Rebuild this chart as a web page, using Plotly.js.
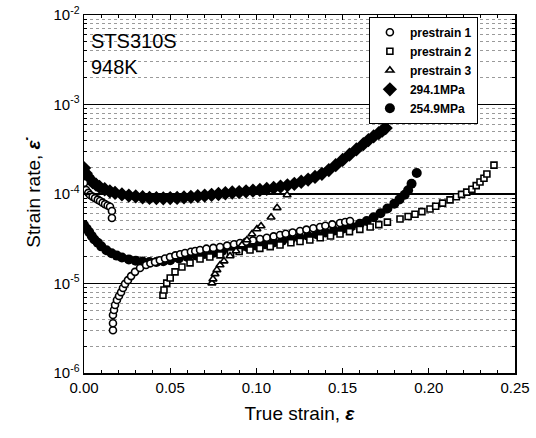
<!DOCTYPE html>
<html>
<head>
<meta charset="utf-8">
<script src="https://cdn.plot.ly/plotly-3.0.1.min.js"></script>
<style>html,body{margin:0;padding:0;background:#fff;}#chart{width:536px;height:438px;}</style>
</head>
<body>
<div id="chart"></div>
<script>
// ---- data ----
const seriesNames = ["prestrain 1", "prestrain 2", "prestrain 3", "294.1MPa", "254.9MPa"];

const p294_x = [0, 0.001, 0.002, 0.0035, 0.005, 0.007, 0.009, 0.012, 0.015, 0.018, 0.022, 0.026, 0.03, 0.034, 0.038, 0.042, 0.046, 0.05, 0.054, 0.058, 0.062, 0.066, 0.07, 0.074, 0.078, 0.082, 0.086, 0.09, 0.094, 0.098, 0.102, 0.106, 0.11, 0.114, 0.118, 0.122, 0.126, 0.13, 0.134, 0.138, 0.142, 0.146, 0.15, 0.154, 0.158, 0.162, 0.165, 0.168, 0.171, 0.173, 0.175];
const p294_y = [1.95e-4, 1.7e-4, 1.58e-4, 1.45e-4, 1.36e-4, 1.27e-4, 1.2e-4, 1.13e-4, 1.07e-4, 1.03e-4, 9.9e-5, 9.6e-5, 9.4e-5, 9.2e-5, 9.05e-5, 9.0e-5, 8.95e-5, 9.0e-5, 9.05e-5, 9.15e-5, 9.3e-5, 9.45e-5, 9.6e-5, 9.8e-5, 1.0e-4, 1.02e-4, 1.04e-4, 1.05e-4, 1.07e-4, 1.09e-4, 1.11e-4, 1.14e-4, 1.17e-4, 1.21e-4, 1.25e-4, 1.3e-4, 1.37e-4, 1.45e-4, 1.55e-4, 1.68e-4, 1.85e-4, 2.1e-4, 2.4e-4, 2.75e-4, 3.15e-4, 3.6e-4, 4.0e-4, 4.4e-4, 4.8e-4, 5.1e-4, 5.45e-4];

const p254_x = [0, 0.0015, 0.003, 0.0045, 0.006, 0.008, 0.01, 0.013, 0.016, 0.019, 0.022, 0.026, 0.03, 0.034, 0.038, 0.042, 0.046, 0.05, 0.055, 0.06, 0.065, 0.07, 0.075, 0.08, 0.085, 0.09, 0.095, 0.1, 0.105, 0.11, 0.115, 0.12, 0.125, 0.13, 0.135, 0.14, 0.145, 0.15, 0.155, 0.16, 0.164, 0.168, 0.172, 0.176, 0.18, 0.183, 0.186, 0.188, 0.19, 0.193];
const p254_y = [4.5e-5, 4.1e-5, 3.75e-5, 3.4e-5, 3.1e-5, 2.85e-5, 2.6e-5, 2.35e-5, 2.18e-5, 2.05e-5, 1.95e-5, 1.86e-5, 1.8e-5, 1.76e-5, 1.74e-5, 1.74e-5, 1.77e-5, 1.82e-5, 1.9e-5, 1.98e-5, 2.06e-5, 2.14e-5, 2.2e-5, 2.3e-5, 2.38e-5, 2.46e-5, 2.55e-5, 2.65e-5, 2.75e-5, 2.87e-5, 3.0e-5, 3.12e-5, 3.25e-5, 3.4e-5, 3.55e-5, 3.72e-5, 3.9e-5, 4.1e-5, 4.35e-5, 4.65e-5, 5.0e-5, 5.5e-5, 6.1e-5, 6.9e-5, 7.8e-5, 8.7e-5, 9.8e-5, 1.1e-4, 1.3e-4, 1.72e-4];

const pre1_x = [0, 0.0012, 0.0025, 0.0035, 0.005, 0.0064, 0.008, 0.0093, 0.0108, 0.0122, 0.0137, 0.0151, 0.0162, 0.0162,
  0.0168, 0.0168, 0.0168, 0.0174, 0.018, 0.0191, 0.0203, 0.0215, 0.0226, 0.0238, 0.0255, 0.0273, 0.0296, 0.0325, 0.036, 0.0385, 0.0412, 0.044, 0.047, 0.0499, 0.053, 0.0558, 0.0586, 0.062, 0.0645, 0.0673, 0.071, 0.075, 0.0789, 0.083, 0.087, 0.0905, 0.094, 0.098, 0.1021, 0.106, 0.11, 0.1137, 0.117, 0.121, 0.1253, 0.129, 0.133, 0.1369, 0.14, 0.144, 0.1485, 0.1515, 0.1543];
const pre1_y = [1.33e-4, 1.11e-4, 1.03e-4, 9.75e-5, 9.35e-5, 9.0e-5, 8.65e-5, 8.35e-5, 8.0e-5, 7.7e-5, 7.45e-5, 7.2e-5, 6.46e-5, 5.4e-5,
  3.0e-6, 3.6e-6, 4.45e-6, 5.06e-6, 5.75e-6, 6.55e-6, 7.25e-6, 8.0e-6, 8.9e-6, 9.9e-6, 1.09e-5, 1.21e-5, 1.35e-5, 1.49e-5, 1.61e-5, 1.68e-5, 1.74e-5, 1.82e-5, 1.9e-5, 1.98e-5, 2.06e-5, 2.12e-5, 2.19e-5, 2.26e-5, 2.31e-5, 2.37e-5, 2.45e-5, 2.5e-5, 2.56e-5, 2.65e-5, 2.75e-5, 2.84e-5, 2.93e-5, 3.03e-5, 3.14e-5, 3.25e-5, 3.36e-5, 3.48e-5, 3.6e-5, 3.72e-5, 3.86e-5, 4.0e-5, 4.14e-5, 4.28e-5, 4.42e-5, 4.58e-5, 4.74e-5, 4.87e-5, 5.0e-5];

const pre2_x = [0.0458, 0.0464, 0.048, 0.05, 0.0528, 0.0568, 0.0615, 0.0673, 0.073, 0.0789, 0.085, 0.09, 0.0963, 0.102, 0.108, 0.1137, 0.12, 0.1253, 0.131, 0.137, 0.143, 0.1485, 0.154, 0.16, 0.166, 0.171, 0.176, 0.1833, 0.188, 0.192, 0.196, 0.2007, 0.204, 0.208, 0.2123, 0.216, 0.219, 0.222, 0.225, 0.2275, 0.2297, 0.232, 0.2337, 0.2378];
const pre2_y = [7.4e-6, 8.45e-6, 1.01e-5, 1.15e-5, 1.35e-5, 1.53e-5, 1.7e-5, 1.88e-5, 1.98e-5, 2.09e-5, 2.2e-5, 2.28e-5, 2.37e-5, 2.47e-5, 2.58e-5, 2.69e-5, 2.85e-5, 2.95e-5, 3.06e-5, 3.25e-5, 3.4e-5, 3.57e-5, 3.8e-5, 4.03e-5, 4.28e-5, 4.55e-5, 4.85e-5, 5.25e-5, 5.6e-5, 5.95e-5, 6.35e-5, 6.8e-5, 7.3e-5, 7.9e-5, 8.6e-5, 9.3e-5, 9.9e-5, 1.05e-4, 1.13e-4, 1.24e-4, 1.36e-4, 1.5e-4, 1.67e-4, 2.1e-4];

const pre3_x = [0.0742, 0.0748, 0.076, 0.0771, 0.0789, 0.0812, 0.0847, 0.0882, 0.0916, 0.0945, 0.0974, 0.1003, 0.1027, 0.1085, 0.112, 0.1178];
const pre3_y = [1.01e-5, 1.12e-5, 1.28e-5, 1.42e-5, 1.61e-5, 1.78e-5, 2.03e-5, 2.31e-5, 2.69e-5, 3.06e-5, 3.57e-5, 4.06e-5, 4.39e-5, 5.5e-5, 7.0e-5, 9.75e-5];

const yTickVals = [1e-6, 1e-5, 1e-4, 1e-3, 1e-2];
const yTickText = ["10<sup>-6</sup>", "10<sup>-5</sup>", "10<sup>-4</sup>", "10<sup>-3</sup>", "10<sup>-2</sup>"];
const xTickVals = [0, 0.05, 0.10, 0.15, 0.20, 0.25];
const xTickText = ["0.00", "0.05", "0.10", "0.15", "0.20", "0.25"];

// ---- traces ----
const openLine = {color: "#000", width: 1.6};
const traces = [
  {x: p294_x, y: p294_y, name: seriesNames[3], legendrank: 4, mode: "markers", type: "scatter",
   marker: {symbol: "diamond", size: 11, color: "#000"}},
  {x: p254_x, y: p254_y, name: seriesNames[4], legendrank: 5, mode: "markers", type: "scatter",
   marker: {symbol: "circle", size: 10, color: "#000"}},
  {x: pre1_x, y: pre1_y, name: seriesNames[0], legendrank: 1, mode: "markers", type: "scatter",
   marker: {symbol: "circle", size: 7, color: "#fff", line: openLine}},
  {x: pre2_x, y: pre2_y, name: seriesNames[1], legendrank: 2, mode: "markers", type: "scatter",
   marker: {symbol: "square", size: 6, color: "#fff", line: openLine}},
  {x: pre3_x, y: pre3_y, name: seriesNames[2], legendrank: 3, mode: "markers", type: "scatter",
   marker: {symbol: "triangle-up", size: 7, color: "#fff", line: openLine}}
];

const font = "Liberation Sans, Arial, sans-serif";
const layout = {
  width: 536, height: 438,
  margin: {l: 84, r: 21, t: 15, b: 65},
  paper_bgcolor: "#fff", plot_bgcolor: "#fff",
  font: {family: font, color: "#000", size: 15},
  showlegend: true,
  legend: {x: 0.661, y: 0.995, xanchor: "left", yanchor: "top",
           bgcolor: "#fff", bordercolor: "#000", borderwidth: 1,
           font: {family: font, size: 12, color: "#000", weight: "bold"},
           tracegroupgap: 0, itemwidth: 30},
  xaxis: {
    range: [0, 0.25], tickmode: "array", tickvals: xTickVals, ticktext: xTickText,
    ticks: "inside", ticklen: 5, tickwidth: 1.2, tickcolor: "#000",
    showline: true, linecolor: "#000", linewidth: 1.5, mirror: "ticks",
    showgrid: false, zeroline: false,
    tickfont: {family: font, size: 15},
    minor: {dtick: 0.01, ticks: "inside", ticklen: 3, tickwidth: 1, tickcolor: "#000", showgrid: false},
    title: {text: "True strain, <b><i>ε</i></b>", font: {family: font, size: 19}, standoff: 12}
  },
  yaxis: {
    type: "log", range: [-6, -2], tickmode: "array", tickvals: yTickVals, ticktext: yTickText,
    ticks: "inside", ticklen: 6, tickwidth: 1.2, tickcolor: "#000",
    showline: true, linecolor: "#000", linewidth: 1.5, mirror: "ticks",
    showgrid: true, gridcolor: "#000", gridwidth: 1.6, zeroline: false,
    tickfont: {family: font, size: 15},
    minor: {dtick: "D1", ticks: "inside", ticklen: 3, tickwidth: 1, tickcolor: "#000",
            showgrid: true, gridcolor: "#9a9a9a", gridwidth: 1, griddash: "dot"},
    title: {text: "Strain rate, <b><i>ε̇</i></b>", font: {family: font, size: 19}, standoff: 8}
  },
  annotations: [
    {xref: "paper", yref: "paper", x: 0.012, y: 0.965, xanchor: "left", yanchor: "top", showarrow: false,
     align: "left", text: "STS310S<br>948K", font: {family: font, size: 20, color: "#000"}}
  ]
};

Plotly.newPlot("chart", traces, layout, {staticPlot: true, displayModeBar: false});
</script>
</body>
</html>
